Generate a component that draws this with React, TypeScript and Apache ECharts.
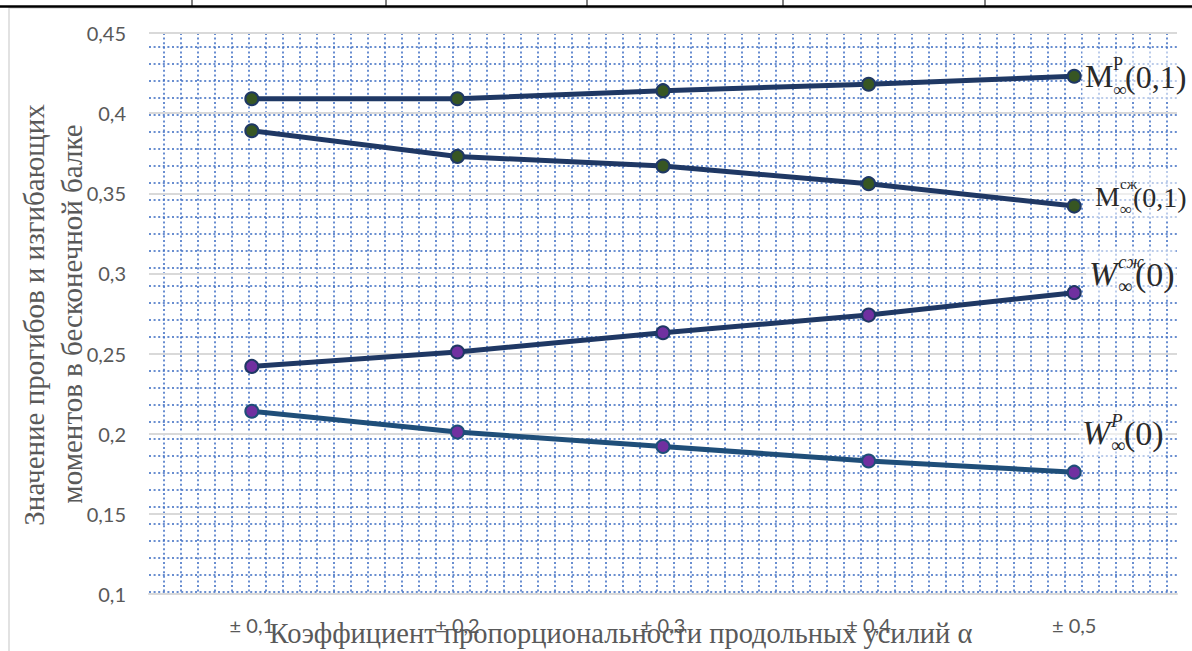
import React, { useEffect, useRef } from "react";
import * as echarts from "echarts";

const categories = ["± 0,1", "± 0,2", "± 0,3", "± 0,4", "± 0,5"];
const mP = [0.409, 0.409, 0.414, 0.418, 0.423];
const mSzh = [0.389, 0.373, 0.367, 0.356, 0.342];
const wSzh = [0.242, 0.251, 0.263, 0.274, 0.288];
const wP = [0.214, 0.201, 0.192, 0.183, 0.176];

const yTitle1 = "Значение прогибов и изгибающих";
const yTitle2 = "моментов в бесконечной балке";
const xTitle = "Коэффициент пропорциональности продольных усилий α";

const SERIF = "Liberation Serif";
const SANS = "Lato";
const DOT = "#4472C4";
const GRAY = "#595959";
const NAVY = "#1F3864";

function mathLabel(
  x: number,
  y: number,
  main: string,
  sup: string,
  sub: string,
  tail: string,
  size: number,
  italic: boolean,
  mainW: number,
  supW: number,
  boxW: number
) {
  const col = "#2a2a2a";
  return {
    type: "group",
    children: [
      {
        type: "rect",
        shape: { x: x - 3, y: y - 25, width: boxW, height: 50 },
        style: { fill: "rgba(255,255,255,0.55)" },
        z: 10,
      },
      {
        type: "text",
        x,
        y,
        z: 11,
        style: {
          text: main,
          fontFamily: SERIF,
          fontSize: size,
          fontStyle: italic ? "italic" : "normal",
          fill: col,
          textVerticalAlign: "middle",
        },
      },
      {
        type: "text",
        x: x + mainW,
        y: y - 12,
        z: 11,
        style: {
          text: sup,
          fontFamily: SERIF,
          fontSize: Math.round(size * 0.55),
          fontStyle: italic ? "italic" : "normal",
          fill: col,
          textVerticalAlign: "middle",
        },
      },
      {
        type: "text",
        x: x + mainW,
        y: y + 13,
        z: 11,
        style: {
          text: sub,
          fontFamily: SERIF,
          fontSize: Math.round(size * 0.6),
          fill: col,
          textVerticalAlign: "middle",
        },
      },
      {
        type: "text",
        x: x + mainW + supW,
        y: y + 1,
        z: 11,
        style: {
          text: tail,
          fontFamily: SERIF,
          fontSize: size,
          fill: col,
          textVerticalAlign: "middle",
        },
      },
    ],
  };
}

export default function App() {
  const ref = useRef<HTMLDivElement>(null);
  useEffect(() => {
    if (!ref.current) return;
    const chart = echarts.init(ref.current, undefined, { renderer: "svg" });
    const dotted = { color: DOT, width: 2, type: [2, 2.6] as any, opacity: 0.8 };
    const mkSeries = (name: string, data: number[], lineColor: string, fill: string) => ({
      name,
      type: "line",
      xAxisIndex: 0,
      yAxisIndex: 0,
      data,
      symbol: "circle",
      symbolSize: 13,
      lineStyle: { color: lineColor, width: 5 },
      itemStyle: { color: fill, borderColor: lineColor, borderWidth: 2 },
      z: 5,
    });
    chart.setOption({
      animation: false,
      backgroundColor: "#ffffff",
      grid: [
        { left: 149, top: 33, width: 1028, height: 561 },
        { left: 149, top: 46.7, width: 1028, height: 545.3 },
        { left: 164, top: 33, width: 1003, height: 561 },
      ],
      xAxis: [
        {
          type: "category",
          gridIndex: 0,
          data: categories,
          boundaryGap: true,
          axisLine: { lineStyle: { color: "#D9D9D9", width: 2 } },
          axisTick: { show: false },
          axisLabel: { color: GRAY, fontFamily: SANS, fontSize: 20, margin: 21 },
          splitLine: { show: false },
          z: 3,
        },
        {
          type: "value",
          gridIndex: 1,
          min: 0,
          max: 1,
          axisLine: { show: false },
          axisTick: { show: false },
          axisLabel: { show: false },
          splitLine: { show: false },
        },
        {
          type: "value",
          gridIndex: 2,
          min: 0,
          max: 59,
          interval: 1,
          axisLine: { show: false },
          axisTick: { show: false },
          axisLabel: { show: false },
          splitLine: { show: true, lineStyle: dotted },
        },
      ],
      yAxis: [
        {
          type: "value",
          gridIndex: 0,
          min: 0.1,
          max: 0.45,
          interval: 0.05,
          axisLine: { show: false },
          axisTick: { show: false },
          axisLabel: {
            color: GRAY,
            fontFamily: SANS,
            fontSize: 20,
            margin: 23,
            formatter: (v: number) => String(+v.toFixed(2)).replace(".", ","),
          },
          splitLine: { show: true, lineStyle: { color: "#D9D9D9", width: 2 } },
          z: 3,
        },
        {
          type: "value",
          gridIndex: 1,
          min: 0,
          max: 32,
          interval: 1,
          axisLine: { show: false },
          axisTick: { show: false },
          axisLabel: { show: false },
          splitLine: { show: true, lineStyle: dotted },
        },
        {
          type: "value",
          gridIndex: 2,
          min: 0,
          max: 1,
          axisLine: { show: false },
          axisTick: { show: false },
          axisLabel: { show: false },
          splitLine: { show: false },
        },
      ],
      series: [
        mkSeries("M_p", mP, NAVY, "#375623"),
        mkSeries("M_szh", mSzh, NAVY, "#375623"),
        mkSeries("W_szh", wSzh, NAVY, "#7030A0"),
        mkSeries("W_p", wP, "#1F4E79", "#7030A0"),
      ],
      graphic: [
        {
          type: "rect",
          shape: { x: 9, y: 8, width: 1200, height: 660 },
          style: { fill: "none", stroke: "#D9D9D9", lineWidth: 1.5 },
          silent: true,
          z: 1,
        },
        {
          type: "line",
          shape: { x1: 0, y1: 6.5, x2: 1192, y2: 6.5 },
          style: { stroke: "#000", lineWidth: 2.5 },
          z: 20,
        },
        ...[192, 386, 587, 783, 985].map((vx) => ({
          type: "line",
          shape: { x1: vx, y1: 0, x2: vx, y2: 6 },
          style: { stroke: "#000", lineWidth: 1 },
          z: 20,
        })),
        {
          type: "text",
          x: 34,
          y: 315,
          rotation: Math.PI / 2,
          z: 20,
          style: {
            text: yTitle1,
            fontFamily: SERIF,
            fontSize: 29,
            fill: GRAY,
            textAlign: "center",
            textVerticalAlign: "middle",
          },
        },
        {
          type: "text",
          x: 72,
          y: 314,
          rotation: Math.PI / 2,
          z: 20,
          style: {
            text: yTitle2,
            fontFamily: SERIF,
            fontSize: 29,
            fill: GRAY,
            textAlign: "center",
            textVerticalAlign: "middle",
          },
        },
        {
          type: "text",
          x: 621,
          y: 633,
          z: 20,
          style: {
            text: xTitle,
            fontFamily: SERIF,
            fontSize: 28.5,
            fill: GRAY,
            textAlign: "center",
            textVerticalAlign: "middle",
          },
        },
        mathLabel(1085, 76, "M", "P", "∞", "(0,1)", 32, false, 28, 12, 106),
        mathLabel(1095, 196, "M", "сж", "∞", "(0,1)", 28, false, 25, 13, 94),
        mathLabel(1089, 273, "W", "сж", "∞", "(0)", 34, true, 29, 17, 90),
        mathLabel(1082, 432, "W", "P", "∞", "(0)", 34, true, 29, 13, 86),
      ],
    });
    return () => chart.dispose();
  }, []);
  return (
    <div
      ref={ref}
      style={{ position: "fixed", left: 0, top: 0, width: 1192, height: 651 }}
    />
  );
}
